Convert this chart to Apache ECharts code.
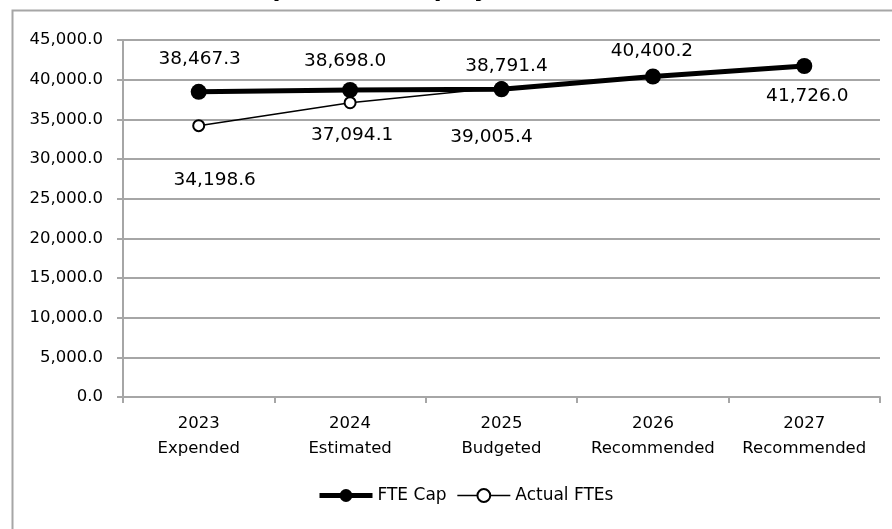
<!DOCTYPE html>
<html>
<head>
<meta charset="utf-8">
<script src="https://cdn.jsdelivr.net/npm/echarts@6/dist/echarts.min.js"></script>
<style>
  html, body { margin: 0; padding: 0; background: #fff; }
  #chartFte { width: 892px; height: 529px; }
</style>
</head>
<body>
<div id="chartFte"></div>
<script>
// values
const categories = ['2023\nExpended', '2024\nEstimated', '2025\nBudgeted', '2026\nRecommended', '2027\nRecommended'];
const fteCap = [38467.3, 38698.0, 38791.4, 40400.2, 41726.0];
const actualFtes = [34198.6, 37094.1, 39005.4, null, null];

// where Excel put each data label, relative to its point
const capLabelOffsets = [[1, -33], [-5, -29], [5, -23], [-1, -25], [3, 30]];
const actualLabelOffsets = [[16, 54], [2, 32], [-10, 50]];

const FONT = '"DejaVu Sans", sans-serif';

function fmt(v) {
    return Number(v).toLocaleString('en-US', { minimumFractionDigits: 1, maximumFractionDigits: 1 });
}

function withLabels(values, offsets) {
    return values.map(function (v, i) {
        if (v === null) return null;
        return { value: v, label: { offset: offsets[i] } };
    });
}

let chartOption = {
    backgroundColor: '#fff',
    animation: false,
    textStyle: { fontFamily: FONT, color: '#000' },
    graphic: [
        {
            type: 'rect',
            shape: { x: 12.5, y: 10.5, width: 1000, height: 1000 },
            style: { fill: null, stroke: '#a6a6a6', lineWidth: 2 },
            silent: true
        },
        {
            // title sits mostly above the visible area, only descenders show
            type: 'text',
            x: 367, y: 2,
            style: {
                text: 'Full-Time Equivalent Employees (FTE)',
                font: 'bold 23px ' + FONT,
                fill: '#000',
                textAlign: 'center',
                textVerticalAlign: 'bottom'
            },
            silent: true
        }
    ],
    legend: {
        data: [
            { name: 'FTE Cap', lineStyle: { width: 5, color: '#000' } },
            { name: 'Actual FTEs', lineStyle: { width: 1.5, color: '#000' } }
        ],
        left: 312,
        top: 482,
        itemWidth: 53,
        itemHeight: 16,
        itemGap: 10,
        textStyle: { fontFamily: FONT, fontSize: 17, color: '#000' }
    },
    grid: {
        left: 123,
        top: 40,
        right: 12,
        bottom: 132,
        containLabel: false
    },
    xAxis: {
        type: 'category',
        data: categories,
        boundaryGap: true,
        axisLine: { lineStyle: { color: '#a6a6a6', width: 2 } },
        axisTick: { show: true, length: 6, lineStyle: { color: '#a6a6a6', width: 2 } },
        axisLabel: {
            fontFamily: FONT,
            fontSize: 16.5,
            lineHeight: 25,
            color: '#000',
            margin: 14,
            interval: 0
        }
    },
    yAxis: {
        type: 'value',
        min: 0,
        max: 45000,
        interval: 5000,
        axisLine: { show: true, lineStyle: { color: '#a6a6a6', width: 2 } },
        axisTick: { show: true, length: 6, lineStyle: { color: '#a6a6a6', width: 2 } },
        splitLine: { lineStyle: { color: '#a6a6a6', width: 2 } },
        axisLabel: {
            fontFamily: FONT,
            fontSize: 16.5,
            color: '#000',
            margin: 20,
            formatter: fmt
        }
    },
    series: [
        {
            name: 'FTE Cap',
            type: 'line',
            z: 3,
            data: withLabels(fteCap, capLabelOffsets),
            symbol: 'circle',
            symbolSize: 16,
            itemStyle: { color: '#000' },
            lineStyle: { color: '#000', width: 5 },
            label: {
                show: true,
                position: 'inside',
                fontFamily: FONT,
                fontSize: 18.5,
                color: '#000',
                formatter: function (p) { return fmt(p.value); }
            }
        },
        {
            name: 'Actual FTEs',
            type: 'line',
            z: 2,
            data: withLabels(actualFtes, actualLabelOffsets),
            symbol: 'emptyCircle',
            symbolSize: 11,
            itemStyle: { color: '#000', borderColor: '#000', borderWidth: 1.5 },
            lineStyle: { color: '#000', width: 1.5 },
            label: {
                show: true,
                position: 'inside',
                fontFamily: FONT,
                fontSize: 18.5,
                color: '#000',
                formatter: function (p) { return fmt(p.value); }
            }
        }
    ]
};

let myChart = echarts.init(document.getElementById('chartFte'));
myChart.setOption(chartOption);
</script>
</body>
</html>
